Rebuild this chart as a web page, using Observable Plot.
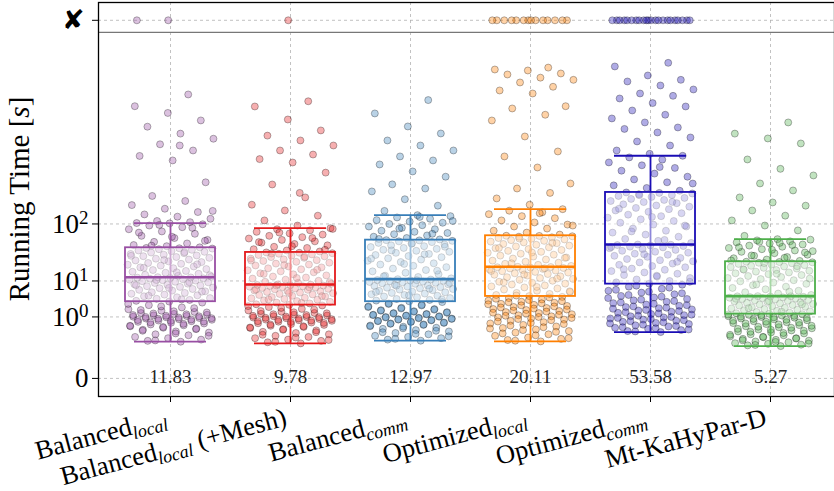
<!DOCTYPE html>
<html>
<head>
<meta charset="utf-8">
<script src="https://cdn.jsdelivr.net/npm/d3@7"></script>
<script src="https://cdn.jsdelivr.net/npm/@observablehq/plot@0.6"></script>
<style>
  html, body { margin: 0; padding: 0; background: #fff; }
  svg { display: block; }
</style>
</head>
<body>
<div id="chart"></div>
<script>
// Algorithm configurations (x axis)
const categories = ["Balanced_local", "Balanced_local (+Mesh)", "Balanced_comm", "Optimized_local", "Optimized_comm", "Mt-KaHyPar-D"];
const labelMain = ["Balanced", "Balanced", "Balanced", "Optimized", "Optimized", "Mt-KaHyPar-D"];
const labelSub = ["local", "local", "comm", "local", "comm", ""];
const labelSuffix = ["", " (+Mesh)", "", "", "", ""];
const colors = ["#984ea3", "#e41a1c", "#377eb8", "#ff7f00", "#1a0db5", "#4daf4a"];

// Running times per instance [s]
const balancedLocal = [0.076, 0.085, 0.1, 0.12, 0.14, 0.17, 0.19, 0.23, 0.26, 0.31, 0.35, 0.38, 0.44, 0.48, 0.52, 0.57, 0.61, 0.66, 0.7, 0.74, 0.79, 0.83, 0.88, 0.92, 0.97, 1.02, 1.08, 1.13, 1.19, 1.27, 1.36, 1.48, 1.62, 1.8, 2.05, 2.4, 2.85,
  3.05, 3.2, 3.4, 3.65, 3.8, 4.0, 4.25, 4.5, 4.7, 4.95, 5.2, 5.4, 5.7, 5.95, 6.2, 6.5, 6.8, 7.05, 7.3, 7.6, 7.9, 8.2, 8.45, 8.7, 9.0, 9.3, 9.6, 9.9, 10.2, 10.4, 10.7, 10.9, 11.2, 11.4, 11.6, 11.8, 11.95, 12.1,
  12.4, 13, 13.6, 14.3, 15, 15.7, 16.3, 17, 17.8, 18.5, 19.2, 20, 20.8, 21.6, 22.5, 23.3, 24.2, 25, 26, 27, 28, 29, 30, 31, 32, 33, 34, 35, 36, 37, 38, 39, 40, 41, 42, 42.5, 43,
  44, 46, 48, 51, 54, 58, 62, 67, 72, 78, 84, 90, 95, 99, 102, 103, 106, 110, 118, 126, 135, 145, 160, 178, 200, 230, 330, 560, 620, 700, 800, 900, 1000, 1150, 1300, 1500, 1700, 2100,
  0.09, 0.16, 0.21, 0.28, 0.33, 0.41, 0.46, 0.55, 0.63, 0.68, 0.72, 0.77, 0.81, 0.86, 0.9, 0.95, 1.0, 1.05, 1.1, 1.16, 1.23, 1.31, 1.42, 1.55, 1.7, 1.95, 2.2, 2.6, 3.5, 4.4, 5.6, 6.9, 8.0, 9.4, 10.5, 13.3, 15.3, 18.8, 22, 26.5, 31.5, 36.5, 47, 56, 65, 75, 88, 97, 150, 780];
const balancedLocalMesh = [0.06, 0.07, 0.085, 0.1, 0.12, 0.14, 0.16, 0.19, 0.22, 0.25, 0.29, 0.33, 0.37, 0.41, 0.46, 0.5, 0.54, 0.58, 0.62, 0.67, 0.72, 0.76, 0.8, 0.85, 0.9, 0.95, 1.0, 1.06, 1.12, 1.2, 1.28, 1.37, 1.5, 1.65, 1.85, 2.1, 2.35,
  2.45, 2.55, 2.7, 2.85, 3.0, 3.15, 3.3, 3.45, 3.6, 3.75, 3.9, 4.05, 4.2, 4.4, 4.6, 4.75, 4.9, 5.1, 5.3, 5.5, 5.7, 5.85, 6.0, 6.2, 6.4, 6.55, 6.7, 6.9, 7.05, 7.2, 7.4, 7.55, 7.7, 7.85, 8.0, 8.1, 8.25, 8.35,
  8.6, 9.1, 9.6, 10.1, 10.7, 11.3, 11.9, 12.5, 13.2, 13.9, 14.6, 15.3, 16, 16.8, 17.6, 18.4, 19.2, 20, 20.9, 21.8, 22.7, 23.6, 24.5, 25.4, 26.3, 27.2, 28.1, 29, 29.9, 30.8, 31.7, 32.6, 33.4, 34.2, 35, 35.6, 36.1,
  37.5, 39, 41, 43, 45, 47.5, 50, 52.5, 55, 58, 61, 64, 67, 70, 73, 77, 81, 84, 87, 95, 112, 130, 152, 180, 221, 312, 420, 534, 577, 640, 700, 780, 868, 960, 1067, 1324, 1692, 1860,
  0.075, 0.095, 0.13, 0.18, 0.24, 0.31, 0.39, 0.44, 0.52, 0.6, 0.65, 0.7, 0.74, 0.78, 0.83, 0.88, 0.93, 0.98, 1.03, 1.09, 1.16, 1.24, 1.33, 1.44, 1.58, 1.75, 1.98, 2.25, 2.8, 3.5, 4.3, 5.2, 6.3, 7.1, 7.9, 9.4, 11.6, 14.2, 17.2, 21.3, 25.9, 30.3, 34.6, 40, 46, 53.5, 62, 75, 85, 250];
const balancedComm = [0.087, 0.1, 0.12, 0.14, 0.16, 0.19, 0.22, 0.26, 0.3, 0.34, 0.38, 0.42, 0.47, 0.52, 0.57, 0.62, 0.67, 0.72, 0.77, 0.82, 0.87, 0.93, 0.99, 1.05, 1.12, 1.19, 1.27, 1.35, 1.45, 1.56, 1.68, 1.82, 2.0, 2.2, 2.45, 2.7, 2.95,
  3.1, 3.25, 3.4, 3.6, 3.8, 4.0, 4.2, 4.4, 4.6, 4.8, 5.0, 5.2, 5.4, 5.6, 5.85, 6.1, 6.3, 6.5, 6.75, 7.0, 7.2, 7.45, 7.7, 7.9, 8.15, 8.4, 8.6, 8.85, 9.1, 9.3, 9.5, 9.7, 9.9, 10.1, 10.3, 10.5, 10.75, 10.95,
  11.4, 12.2, 13, 14, 15, 16, 17, 18.2, 19.4, 20.6, 21.8, 23, 24.3, 25.6, 27, 28.4, 29.8, 31.2, 32.6, 34, 35.5, 37, 38.5, 40, 41.5, 43, 44.5, 46, 47.5, 49, 50.5, 52, 53.5, 55, 56, 57, 57.5,
  59, 62, 65, 68, 71, 74, 77, 80, 84, 88, 92, 96, 100, 104, 108, 113, 118, 123, 128, 132, 150, 175, 210, 260, 281, 313, 380, 432, 510, 560, 613, 700, 780, 868, 1003, 1155, 1486, 1900,
  0.11, 0.15, 0.2, 0.24, 0.28, 0.36, 0.44, 0.5, 0.55, 0.6, 0.65, 0.7, 0.75, 0.8, 0.85, 0.9, 0.96, 1.02, 1.09, 1.16, 1.23, 1.31, 1.4, 1.5, 1.62, 1.75, 1.9, 2.1, 2.35, 2.6, 3.5, 4.5, 5.5, 6.6, 7.8, 9.0, 10.4, 12.6, 16.5, 22.4, 28, 33.5, 39, 45, 51, 60, 72, 86, 110, 125];
const optimizedLocal = [0.079, 0.095, 0.11, 0.13, 0.16, 0.19, 0.23, 0.27, 0.32, 0.37, 0.43, 0.5, 0.57, 0.64, 0.72, 0.8, 0.88, 0.96, 1.05, 1.14, 1.24, 1.35, 1.46, 1.58, 1.7, 1.83, 1.97, 2.12, 2.28, 2.45, 2.63, 2.82, 3.02, 3.25, 3.5, 3.8, 4.1,
  4.3, 4.6, 4.9, 5.2, 5.5, 5.9, 6.3, 6.7, 7.1, 7.5, 7.9, 8.3, 8.7, 9.1, 9.6, 10.1, 10.6, 11.1, 11.6, 12.1, 12.6, 13.1, 13.6, 14.1, 14.6, 15.1, 15.6, 16.1, 16.6, 17.1, 17.5, 17.9, 18.3, 18.7, 19, 19.3, 19.5, 19.7,
  20.5, 21.5, 22.5, 23.6, 24.7, 25.8, 27, 28.2, 29.4, 30.6, 31.8, 33, 34.3, 35.6, 37, 38.4, 39.8, 41.2, 42.6, 44, 45.5, 47, 48.5, 50, 51.5, 53, 54.5, 56, 57.5, 59, 60.5, 62, 63.5, 65, 66, 66.8, 67.2,
  70, 75, 80, 86, 92, 98, 105, 112, 120, 128, 136, 144, 151, 158, 180, 215, 250, 281, 320, 475, 613, 685, 943, 1299, 1450, 1631, 1700, 2137, 2252, 2400, 2583, 2700, 2800, 2950, 3000, 3150, 3200, 3300,
  0.087, 0.12, 0.17, 0.21, 0.25, 0.3, 0.35, 0.4, 0.47, 0.54, 0.6, 0.68, 0.76, 0.84, 0.92, 1.0, 1.1, 1.19, 1.3, 1.4, 1.52, 1.64, 1.77, 1.9, 2.05, 2.2, 2.37, 2.55, 2.72, 2.92, 3.13, 3.37, 3.65, 3.95, 4.45, 5.7, 7.3, 9.3, 11.3, 13.8, 16.3, 18.5, 23, 29, 36, 43, 52, 61, 95, 140];
const optimizedComm = [0.242, 0.27, 0.3, 0.34, 0.38, 0.43, 0.48, 0.54, 0.6, 0.66, 0.73, 0.8, 0.88, 0.96, 1.05, 1.15, 1.26, 1.38, 1.5, 1.64, 1.78, 1.94, 2.1, 2.3, 2.5, 2.75, 3.0, 3.3, 3.6, 3.95, 4.35, 4.8, 5.3, 5.9, 6.6, 7.4, 8.2,
  8.7, 9.3, 10, 10.8, 11.6, 12.5, 13.4, 14.3, 15.2, 16.2, 17.2, 18.2, 19.3, 20.4, 21.5, 22.7, 23.9, 25.1, 26.3, 27.6, 28.9, 30.2, 31.5, 32.9, 34.3, 35.7, 37.1, 38.5, 39.9, 41.3, 42.6, 43.9, 45.1, 46.2, 47.2, 48, 48.6, 49,
  52, 56, 60, 65, 70, 75, 80, 86, 92, 98, 104, 110, 116, 122, 128, 134, 140, 146, 152, 158, 164, 170, 176, 182, 188, 194, 200, 206, 212, 218, 224, 230, 236, 241, 246, 250, 253,
  265, 285, 305, 330, 355, 380, 410, 440, 470, 500, 535, 570, 600, 622, 650, 700, 780, 850, 924, 1024, 1100, 1132, 1250, 1351, 1450, 1571, 1692, 1800, 1956, 2050, 2137, 2291, 2454, 2627, 2700, 2903, 3361, 3560,
  0.26, 0.32, 0.36, 0.4, 0.45, 0.51, 0.57, 0.63, 0.7, 0.76, 0.84, 0.92, 1.0, 1.1, 1.2, 1.32, 1.44, 1.57, 1.71, 1.86, 2.02, 2.2, 2.4, 2.62, 2.87, 3.15, 3.45, 3.8, 4.15, 4.6, 5.1, 5.6, 6.2, 7.0, 7.8, 9.6, 13, 17.7, 24.5, 33.6, 44.5, 58, 78, 95, 125, 160, 195, 235, 320, 480];
const mtKaHyParD = [0.04, 0.045, 0.05, 0.056, 0.062, 0.07, 0.078, 0.087, 0.097, 0.11, 0.12, 0.135, 0.15, 0.17, 0.19, 0.21, 0.235, 0.26, 0.29, 0.32, 0.36, 0.4, 0.44, 0.49, 0.54, 0.59, 0.64, 0.7, 0.76, 0.82, 0.88, 0.94, 1.0, 1.06, 1.12, 1.18, 1.24,
  1.28, 1.34, 1.4, 1.47, 1.54, 1.61, 1.68, 1.75, 1.83, 1.91, 1.99, 2.07, 2.15, 2.24, 2.33, 2.42, 2.51, 2.6, 2.7, 2.8, 2.9, 3.0, 3.1, 3.2, 3.3, 3.4, 3.5, 3.6, 3.7, 3.8, 3.9, 3.98, 4.05, 4.12, 4.18, 4.23, 4.27, 4.29,
  4.6, 5.0, 5.4, 5.9, 6.4, 6.9, 7.4, 8.0, 8.6, 9.2, 9.8, 10.4, 11.0, 11.6, 12.2, 12.8, 13.4, 14.0, 14.6, 15.2, 15.8, 16.4, 17.0, 17.6, 18.2, 18.8, 19.4, 20.0, 20.6, 21.2, 21.8, 22.4, 23.0, 23.5, 24.0, 24.3, 24.6,
  25.5, 27, 28.5, 30, 31.5, 33, 35, 37, 39, 41, 43, 45, 47, 49, 51, 53, 55, 57, 58.5, 59.6, 67, 80.8, 95, 112, 130, 152, 175, 192, 220.8, 267, 320.7, 391.9, 460, 572.6, 814.6, 905, 1000, 1250,
  0.048, 0.059, 0.074, 0.092, 0.115, 0.142, 0.18, 0.22, 0.25, 0.28, 0.31, 0.34, 0.38, 0.42, 0.46, 0.52, 0.57, 0.62, 0.67, 0.73, 0.79, 0.85, 0.91, 0.97, 1.03, 1.09, 1.15, 1.21, 1.5, 1.95, 2.55, 3.15, 3.65, 5.6, 8.3, 11.3, 14.3, 17.3, 20.3, 23.2, 26, 29, 32, 36, 40, 44, 48, 54, 38, 52];
const runningTimes = [balancedLocal, balancedLocalMesh, balancedComm, optimizedLocal, optimizedComm, mtKaHyParD];

// Instances that hit the time limit
const timeouts = [2, 1, 0, 14, 22, 0];

// Box statistics [s]
const whiskerLow = [0.076, 0.06, 0.087, 0.079, 0.242, 0.04];
const quartile1 = [3.02, 2.41, 3.02, 4.21, 8.48, 1.25];
const medians = [12.1, 8.34, 10.98, 19.76, 49.1, 4.29];
const quartile3 = [43.3, 36.1, 57.5, 67.2, 253, 24.6];
const whiskerHigh = [102.6, 87.2, 132, 158, 622.5, 59.6];

// Geometric mean running times [s]
const geoMeans = [11.83, 9.78, 12.97, 20.11, 53.58, 5.27];

// Y tick values; the timeout row sits above a separator
const TIMEOUT_ROW = 6700;
const TIMEOUT_SEP = 5640;
const Y_MIN = -0.0022;
const Y_MAX = 8540;
const yTicks = [0, 1, 10, 100, TIMEOUT_ROW];

const idx = d3.range(categories.length);
// deterministic horizontal spread of the strip points
const spread = k => (((k + 1) * 0.6180339887) % 1 - 0.5) * 0.72;

const points = runningTimes.flatMap((vals, g) => vals.map((v, k) => ({g, v, k})));
const timeoutPoints = timeouts.flatMap((n, g) => d3.range(n).map(k => ({g, v: TIMEOUT_ROW, k: k + 3})));

const boxes = idx.map(i => ({
  i, lo: whiskerLow[i], q1: quartile1[i], med: medians[i], q3: quartile3[i], hi: whiskerHigh[i], c: colors[i]
}));

const serif = "'Liberation Serif', 'DejaVu Serif', serif";
const gridStyle = {stroke: "#aaa", strokeOpacity: 0.8, strokeWidth: 0.9, strokeDasharray: "3,3"};
const dotStyle = {
  r: 3.5, fill: d => colors[d.g], fillOpacity: 0.35,
  stroke: "#000", strokeOpacity: 0.32, strokeWidth: 0.9
};

const plot = Plot.plot({
  width: 834,
  height: 491,
  marginLeft: 98,
  marginRight: 0,
  marginTop: 2,
  marginBottom: 95,
  style: {fontFamily: serif, background: "white", color: "black"},
  color: {type: "identity"},
  x: {type: "linear", domain: [-0.6, 5.5333], axis: null, label: null},
  y: {type: "pow", exponent: 0.2, domain: [Y_MIN, Y_MAX], axis: null, label: null},
  marks: [
    Plot.gridX(idx, gridStyle),
    Plot.gridY(yTicks, gridStyle),
    Plot.dot(points, {x: d => d.g + spread(d.k), y: "v", ...dotStyle}),
    Plot.dot(timeoutPoints, {x: d => d.g + spread(d.k) * 0.95, y: "v", ...dotStyle}),
    Plot.ruleX(boxes, {x: "i", y1: "lo", y2: "hi", stroke: "c", strokeWidth: 1.8}),
    Plot.ruleY(boxes, {y: "lo", x1: d => d.i - 0.3, x2: d => d.i + 0.3, stroke: "c", strokeWidth: 1.8}),
    Plot.ruleY(boxes, {y: "hi", x1: d => d.i - 0.3, x2: d => d.i + 0.3, stroke: "c", strokeWidth: 1.8}),
    Plot.rect(boxes, {x1: d => d.i - 0.375, x2: d => d.i + 0.375, y1: "q1", y2: "q3",
      fill: "white", fillOpacity: 0.5, stroke: "c", strokeWidth: 1.8}),
    Plot.ruleY(boxes, {y: "med", x1: d => d.i - 0.375, x2: d => d.i + 0.375, stroke: "c", strokeWidth: 2.6}),
    Plot.ruleY([TIMEOUT_SEP], {stroke: "#777", strokeWidth: 1.3}),
    Plot.text(idx, {x: d => d, y: () => 0, text: d => geoMeans[d].toFixed(2), fontSize: 19, dy: -2, fill: "#222"}),
    Plot.axisY(yTicks, {
      label: null, tickSize: 6, tickPadding: 4, fontSize: 27,
      tickFormat: v => v === 0 ? "0" : v === TIMEOUT_ROW ? "\u2718" : "10^" + Math.round(Math.log10(v))
    }),
    Plot.axisX(idx, {label: null, tickSize: 6, tickFormat: () => ""}),
    Plot.frame({stroke: "black", strokeWidth: 1.3})
  ]
});

document.getElementById("chart").appendChild(plot);

const svg = d3.select(plot);

// powers of ten with raised exponents, and a heavy cross for timeouts
svg.selectAll('g[aria-label="y-axis tick label"] text').each(function () {
  const t = d3.select(this);
  const s = t.text();
  if (s.startsWith("10^")) {
    t.text("");
    t.append("tspan").text("10");
    t.append("tspan").attr("font-size", 19).attr("dy", "-0.45em").text(s.slice(3));
  } else if (s === "\u2718") {
    t.attr("font-family", "'DejaVu Sans', sans-serif").attr("font-size", 27).attr("dx", -4);
  }
});

// rotated category labels with italic subscripts
const xs = plot.scale("x");
const labels = svg.append("g").attr("font-family", serif).attr("font-size", 26.5).attr("fill", "black");
idx.forEach(i => {
  const t = labels.append("text")
    .attr("transform", `translate(${xs.apply(i) - 2},425) rotate(-15)`)
    .attr("text-anchor", "end");
  t.append("tspan").text(labelMain[i]);
  if (labelSub[i]) t.append("tspan").attr("font-size", 18).attr("font-style", "italic").attr("dy", 5).text(labelSub[i]);
  if (labelSuffix[i]) t.append("tspan").attr("dy", -5).text(labelSuffix[i]);
});

// y axis title
const title = svg.append("text")
  .attr("transform", "translate(29,199) rotate(-90)")
  .attr("text-anchor", "middle")
  .attr("font-family", serif)
  .attr("font-size", 29)
  .attr("fill", "black");
title.append("tspan").text("Running Time [");
title.append("tspan").attr("font-style", "italic").text("s");
title.append("tspan").text("]");
</script>
</body>
</html>
